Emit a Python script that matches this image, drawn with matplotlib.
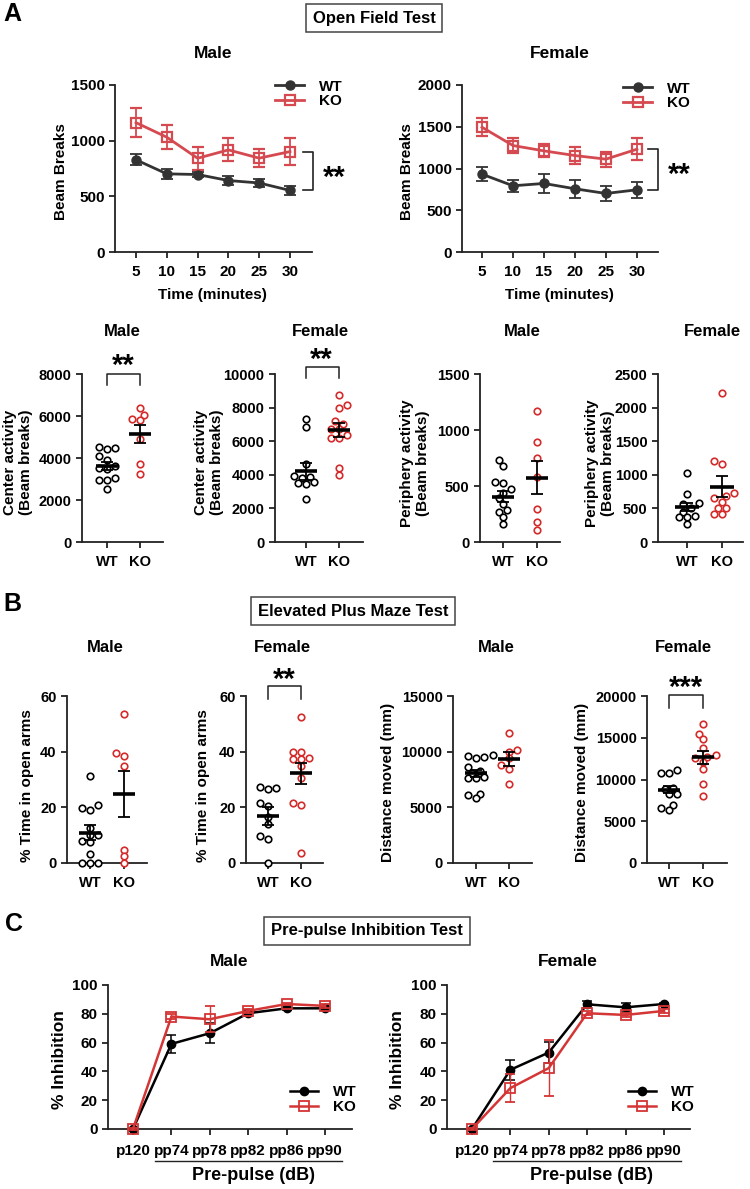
import numpy as np
import matplotlib
matplotlib.use('Agg')
import matplotlib.pyplot as plt
from matplotlib.lines import Line2D
from matplotlib.transforms import blended_transform_factory as btf

# ---------------- DATA ----------------
time_min = [5, 10, 15, 20, 25, 30]
of_male_wt_mean = [828, 702, 696, 642, 620, 553]
of_male_wt_sem = [50, 45, 22, 40, 40, 38]
of_male_ko_mean = [1162, 1031, 842, 917, 843, 902]
of_male_ko_sem = [128, 110, 105, 103, 78, 118]
of_female_wt_mean = [932, 793, 821, 757, 701, 745]
of_female_wt_sem = [80, 70, 110, 105, 85, 95]
of_female_ko_mean = [1494, 1275, 1211, 1155, 1112, 1231]
of_female_ko_sem = [110, 88, 78, 100, 90, 130]

groups = ['WT', 'KO']

center_male_wt = [4523, 4491, 4412, 4079, 3888, 3603, 3539, 3492, 3063, 2936, 2936, 2523]
center_male_ko = [6380, 6063, 5840, 5793, 4920, 3698, 3253]
center_male_stats = [(3610, 190), (5158, 430)]
center_female_wt = [7300, 6850, 4650, 3900, 3850, 3800, 3550, 3500, 3450, 2550]
center_female_ko = [8770, 8130, 7950, 7210, 7010, 6750, 6730, 6380, 6220, 6220, 4420, 4000]
center_female_stats = [(4220, 500), (6670, 400)]

periph_male_wt = [730, 680, 540, 530, 470, 440, 390, 340, 290, 270, 225, 160]
periph_male_ko = [1171, 896, 753, 583, 299, 179, 105]
periph_male_stats = [(403, 48), (574, 148)]
periph_female_wt = [1025, 715, 575, 560, 510, 450, 390, 375, 375, 275]
periph_female_ko = [2215, 1210, 1165, 725, 690, 660, 600, 500, 500, 415, 415]
periph_female_stats = [(525, 60), (825, 160)]

epm_open_male_wt = [31.2, 20.8, 19.9, 19.2, 12.6, 10.0, 10.0, 7.8, 7.6, 3.1, 0, 0, 0]
epm_open_male_ko = [53.4, 39.6, 38.4, 34.8, 4.8, 2.4, 0]
epm_open_male_stats = [(10.8, 2.7), (24.7, 8.2)]
epm_open_female_wt = [27.4, 26.8, 26.5, 21.7, 20.5, 16.6, 13.9, 9.7, 8.5, 0]
epm_open_female_ko = [52.6, 40.0, 40.0, 37.9, 37.2, 37.2, 34.9, 30.4, 21.6, 20.8, 3.6]
epm_open_female_stats = [(16.9, 3.2), (32.2, 3.8)]

epm_dist_male_wt = [9720, 9570, 9540, 9390, 8580, 8280, 8100, 7680, 7620, 7620, 6230, 6080, 5810]
epm_dist_male_ko = [11680, 10140, 9990, 9390, 8790, 8430, 7130]
epm_dist_male_stats = [(8070, 320), (9330, 600)]
epm_dist_female_wt = [11120, 10800, 10800, 9040, 8920, 8320, 8320, 7000, 6640, 6320]
epm_dist_female_ko = [16600, 15500, 14900, 13800, 12900, 12700, 12600, 12100, 11300, 9500, 8000]
epm_dist_female_stats = [(8800, 420), (12640, 740)]

ppi_labels = ['p120', 'pp74', 'pp78', 'pp82', 'pp86', 'pp90']
ppi_male_wt_mean = [0, 59.1, 66.5, 80.4, 83.8, 83.8]
ppi_male_wt_sem = [0.5, 6.5, 7.0, 2.0, 1.0, 1.0]
ppi_male_ko_mean = [0, 78.1, 76.2, 82.0, 86.8, 85.5]
ppi_male_ko_sem = [0.5, 2.0, 9.0, 1.5, 1.0, 1.5]
ppi_female_wt_mean = [0, 41.1, 53.1, 86.6, 84.5, 86.8]
ppi_female_wt_sem = [0.5, 7.0, 7.5, 2.5, 3.0, 1.0]
ppi_female_ko_mean = [0, 28.4, 42.3, 80.4, 79.2, 82.0]
ppi_female_ko_sem = [0.5, 9.5, 19.3, 1.5, 1.5, 1.5]

# ---------------- STYLE ----------------
plt.rcParams['font.family'] = ['Liberation Sans', 'DejaVu Sans']
plt.rcParams['font.weight'] = 'bold'
plt.rcParams['axes.labelweight'] = 'bold'

WT_A = '#333333'
KO_A = '#d54a50'
KO_S = '#d42b2b'
KO_P = '#d43535'
SP = '#222222'

W, H = 750, 1189
fig = plt.figure(figsize=(W / 100, H / 100), dpi=100)


def add_ax(l, t, r, b):
    return fig.add_axes([l / W, 1 - b / H, (r - l) / W, (b - t) / H])


def fxy(x, y):
    return (x / W, 1 - y / H)


def ftext(x, y, s, **kw):
    kw.setdefault('ha', 'center')
    kw.setdefault('va', 'center')
    kw.setdefault('fontweight', 'bold')
    fig.text(x / W, 1 - y / H, s, **kw)


def style_ax(ax, fs=10, pad_x=5, pad_y=3):
    for s in ['top', 'right']:
        ax.spines[s].set_visible(False)
    for s in ['left', 'bottom']:
        ax.spines[s].set_linewidth(1.3)
        ax.spines[s].set_color(SP)
    ax.tick_params(axis='both', direction='out', length=4.5, width=1.3, color=SP,
                   labelsize=fs)
    ax.tick_params(axis='x', pad=pad_x)
    ax.tick_params(axis='y', pad=pad_y)
    for lab in ax.get_xticklabels() + ax.get_yticklabels():
        lab.set_fontweight('bold')


def set_ylab(ax, s, x, y, fs=11, ls=1.25):
    ax.set_ylabel(s, fontsize=fs, fontweight='bold', ha='center', va='center',
                  linespacing=ls)
    ax.yaxis.set_label_coords(x / W, 1 - y / H, transform=fig.transFigure)


def set_xlab(ax, s, x, y, fs=11):
    ax.set_xlabel(s, fontsize=fs, fontweight='bold', ha='center', va='center')
    ax.xaxis.set_label_coords(x / W, 1 - y / H, transform=fig.transFigure)


def box_title(x, y, s):
    ftext(x, y, s, fontsize=12, bbox=dict(boxstyle='square,pad=0.4', fc='white',
                                           ec='#444444', lw=1.1))


# ---------------- A: time course ----------------
def line_panel(ax, wt_m, wt_s, ko_m, ko_s, ylim, yticks, xlim, leg_xy, br_x, br_y, star_xy):
    ax.set_xlim(*xlim)
    ax.set_ylim(*ylim)
    ax.errorbar(time_min, wt_m, yerr=wt_s, color=WT_A, lw=2, marker='o', ms=6.5,
                capsize=4, capthick=1.3, elinewidth=1.3, zorder=3, clip_on=False)
    ax.errorbar(time_min, ko_m, yerr=ko_s, color=KO_A, lw=2, marker='s', ms=7,
                mfc='none', mew=1.6, capsize=4, capthick=1.3, elinewidth=1.3,
                zorder=3, clip_on=False)
    ax.set_xticks(time_min)
    ax.set_yticks(yticks)
    style_ax(ax, fs=11, pad_x=5)
    handles = [Line2D([], [], color=WT_A, marker='o', lw=2, ms=6.5),
               Line2D([], [], color=KO_A, marker='s', mfc='none', mew=1.6, lw=2, ms=7)]
    ax.legend(handles, groups, loc='center left', bbox_to_anchor=fxy(*leg_xy),
              bbox_transform=fig.transFigure, frameon=False, borderpad=0,
              borderaxespad=0, handlelength=1.9, handletextpad=1.0,
              labelspacing=0.05, prop=dict(size=11, weight='bold'))
    tr = btf(fig.transFigure, ax.transData)
    bx = br_x / W
    tick = 10 / W
    ax.plot([bx - tick, bx, bx, bx - tick], [br_y[0], br_y[0], br_y[1], br_y[1]],
            color=SP, lw=1.2, transform=tr, clip_on=False)
    ftext(star_xy[0], star_xy[1], '**', fontsize=21)


axA1 = add_ax(115, 85, 312, 252)
line_panel(axA1, of_male_wt_mean, of_male_wt_sem, of_male_ko_mean, of_male_ko_sem,
           (0, 1500), [0, 500, 1000, 1500], (1.59, 33.57), (275, 94), 313,
           (of_male_ko_mean[-1], of_male_wt_mean[-1]), (334, 178))
set_ylab(axA1, 'Beam Breaks', 61, 172)
set_xlab(axA1, 'Time (minutes)', 212, 295)

axA2 = add_ax(462, 85, 658, 252)
line_panel(axA2, of_female_wt_mean, of_female_wt_sem, of_female_ko_mean, of_female_ko_sem,
           (0, 2000), [0, 500, 1000, 1500, 2000], (1.77, 33.4), (623, 96), 658,
           (of_female_ko_mean[-1], of_female_wt_mean[-1]), (679, 175))
set_ylab(axA2, 'Beam Breaks', 407, 172)
set_xlab(axA2, 'Time (minutes)', 559, 295)

ftext(213, 53, 'Male', fontsize=12.5)
ftext(560, 53, 'Female', fontsize=12.5)


# ---------------- scatter panels ----------------
def swarm(ax, xc, vals, step=8.3, mind=6.2):
    vals = np.asarray(vals, float)
    pts = ax.transData.transform(np.column_stack([np.full(len(vals), xc), vals]))
    ypx = pts[:, 1]
    ppu = ax.transData.transform((1, 0))[0] - ax.transData.transform((0, 0))[0]
    placed = []
    off = np.zeros(len(vals))
    for i in np.argsort(vals):
        # local balance of neighbours decides which side is tried first
        near = [px for px, py in placed if abs(py - ypx[i]) < 2.5 * mind]
        bal = sum(near)
        cands = [0.0]
        for k in range(1, 14):
            d = k * step / 2
            cands += [-d, d] if bal >= 0 else [d, -d]
        for c in cands:
            if all((c - px) ** 2 + (ypx[i] - py) ** 2 >= mind ** 2 for px, py in placed):
                off[i] = c
                placed.append((c, ypx[i]))
                break
    return xc + off / ppu


def scatter_panel(ax, wt, ko, stats, ylim, yticks, xlim, pad_x=5):
    ax.set_xlim(*xlim)
    ax.set_ylim(*ylim)
    for xc, vals, col, (m, s) in [(0, wt, 'black', stats[0]), (1, ko, KO_S, stats[1])]:
        xs = swarm(ax, xc, vals)
        ax.plot(xs, vals, 'o', mfc='white', mec=col, mew=1.2, ms=4.7,
                clip_on=False, zorder=3, ls='none')
        ax.plot([xc - 0.33, xc + 0.33], [m, m], color='black', lw=2.6,
                solid_capstyle='butt', zorder=4)
        ax.errorbar([xc], [m], yerr=[s], color='black', lw=1.3, capsize=4.5,
                    capthick=1.3, zorder=4, fmt='none')
    ax.set_xticks([0, 1])
    ax.set_xticklabels(groups)
    ax.set_yticks(yticks)
    style_ax(ax, fs=10.5, pad_x=pad_x)


def bracket(ax, y_top, y_leg, star_xy, stars):
    tr = btf(ax.transData, ax.transAxes)
    ax.plot([0, 0, 1, 1], [y_leg, y_top, y_top, y_leg], color=SP, lw=1.1,
            transform=tr, clip_on=False)
    ftext(star_xy[0], star_xy[1], stars, fontsize=21)


ax = add_ax(82, 374, 163, 542)
scatter_panel(ax, center_male_wt, center_male_ko, center_male_stats, (0, 8000),
              [0, 2000, 4000, 6000, 8000], (-0.76, 1.70))
set_ylab(ax, 'Center activity\n(Beam breaks)', 18, 462)
bracket(ax, 1.0, 0.935, (123, 366), '**')

ax = add_ax(275, 374, 363, 542)
scatter_panel(ax, center_female_wt, center_female_ko, center_female_stats, (0, 10000),
              [0, 2000, 4000, 6000, 8000, 10000], (-0.94, 1.73))
set_ylab(ax, 'Center activity\n(Beam breaks)', 209, 462)
bracket(ax, 1.04, 0.976, (321, 360), '**')

ax = add_ax(480, 374, 560, 542)
scatter_panel(ax, periph_male_wt, periph_male_ko, periph_male_stats, (0, 1500),
              [0, 500, 1000, 1500], (-0.68, 1.68))
set_ylab(ax, 'Periphery activity\n(Beam breaks)', 415, 463)

ax = add_ax(658, 374, 743, 542)
scatter_panel(ax, periph_female_wt, periph_female_ko, periph_female_stats, (0, 2500),
              [0, 500, 1000, 1500, 2000, 2500], (-0.83, 1.60))
set_ylab(ax, 'Periphery activity\n(Beam breaks)', 600, 463)

for x, s in [(122, 'Male'), (320, 'Female'), (522, 'Male'), (712, 'Female')]:
    ftext(x, 331, s, fontsize=12)

# ---------------- B ----------------
ax = add_ax(67, 696, 147, 863)
scatter_panel(ax, epm_open_male_wt, epm_open_male_ko, epm_open_male_stats, (0, 60),
              [0, 20, 40, 60], (-0.68, 1.68), pad_x=5)
set_ylab(ax, '% Time in open arms', 27, 786)

ax = add_ax(246, 696, 323, 863)
scatter_panel(ax, epm_open_female_wt, epm_open_female_ko, epm_open_female_stats, (0, 60),
              [0, 20, 40, 60], (-0.67, 1.67), pad_x=5)
set_ylab(ax, '% Time in open arms', 203, 786)
bracket(ax, 1.06, 0.98, (284, 680), '**')

ax = add_ax(453, 696, 532, 863)
scatter_panel(ax, epm_dist_male_wt, epm_dist_male_ko, epm_dist_male_stats, (0, 15000),
              [0, 5000, 10000, 15000], (-0.70, 1.70), pad_x=5)
set_ylab(ax, 'Distance moved (mm)', 388, 782)

ax = add_ax(647, 696, 727, 863)
scatter_panel(ax, epm_dist_female_wt, epm_dist_female_ko, epm_dist_female_stats, (0, 20000),
              [0, 5000, 10000, 15000, 20000], (-0.65, 1.70), pad_x=5)
set_ylab(ax, 'Distance moved (mm)', 582, 782)
bracket(ax, 1.006, 0.928, (686, 688), '***')

for x, s in [(105, 'Male'), (282, 'Female'), (496, 'Male'), (683, 'Female')]:
    ftext(x, 647, s, fontsize=12)


# ---------------- C: PPI ----------------
def ppi_panel(ax, wt_m, wt_s, ko_m, ko_s, xlim, leg_xy, ul, xlab_xy, ylab_xy):
    x = np.arange(len(ppi_labels))
    ax.set_xlim(*xlim)
    ax.set_ylim(0, 100)
    ax.errorbar(x, wt_m, yerr=wt_s, color='black', lw=1.8, marker='o', ms=6,
                capsize=3.5, capthick=1.1, elinewidth=1.1, zorder=3, clip_on=False)
    ax.errorbar(x, ko_m, yerr=ko_s, color=KO_P, lw=1.8, marker='s', ms=6.5,
                mfc='none', mew=1.3, capsize=3.5, capthick=1.0, elinewidth=1.0,
                zorder=4, clip_on=False)
    ax.set_xticks(x)
    ax.set_xticklabels(ppi_labels)
    ax.set_yticks([0, 20, 40, 60, 80, 100])
    style_ax(ax, fs=11, pad_x=6)
    handles = [Line2D([], [], color='black', marker='o', lw=1.8, ms=6),
               Line2D([], [], color=KO_P, marker='s', mfc='none', mew=1.3, lw=1.8, ms=6.5)]
    ax.legend(handles, groups, loc='center left', bbox_to_anchor=fxy(*leg_xy),
              bbox_transform=fig.transFigure, frameon=False, borderpad=0,
              borderaxespad=0, handlelength=1.8, handletextpad=1.0,
              labelspacing=0.05, prop=dict(size=11, weight='bold'))
    fig.add_artist(Line2D([ul[0] / W, ul[1] / W], [1 - ul[2] / H, 1 - ul[2] / H],
                          color=SP, lw=1.0, transform=fig.transFigure))
    set_xlab(ax, 'Pre-pulse (dB)', *xlab_xy, fs=13)
    set_ylab(ax, '% Inhibition', *ylab_xy, fs=12.5)


ax = add_ax(108, 985, 352, 1129)
ppi_panel(ax, ppi_male_wt_mean, ppi_male_wt_sem, ppi_male_ko_mean, ppi_male_ko_sem,
          (-0.65, 5.70), (290, 1099.5), (155, 342, 1161), (253, 1176), (60, 1060))
ax = add_ax(447, 985, 690, 1129)
ppi_panel(ax, ppi_female_wt_mean, ppi_female_wt_sem, ppi_female_ko_mean, ppi_female_ko_sem,
          (-0.65, 5.68), (628, 1099.5), (493, 681, 1161), (591, 1176), (397, 1060))
ftext(229, 962, 'Male', fontsize=12.5)
ftext(568, 962, 'Female', fontsize=12.5)

# ---------------- headings ----------------
box_title(374, 18, 'Open Field Test')
box_title(353, 611, 'Elevated Plus Maze Test')
box_title(367, 931, 'Pre-pulse Inhibition Test')
ftext(3, 14, 'A', fontsize=18, ha='left')
ftext(3, 604, 'B', fontsize=18, ha='left')
ftext(5, 924, 'C', fontsize=18, ha='left')

fig.savefig('out.png', dpi=100)
